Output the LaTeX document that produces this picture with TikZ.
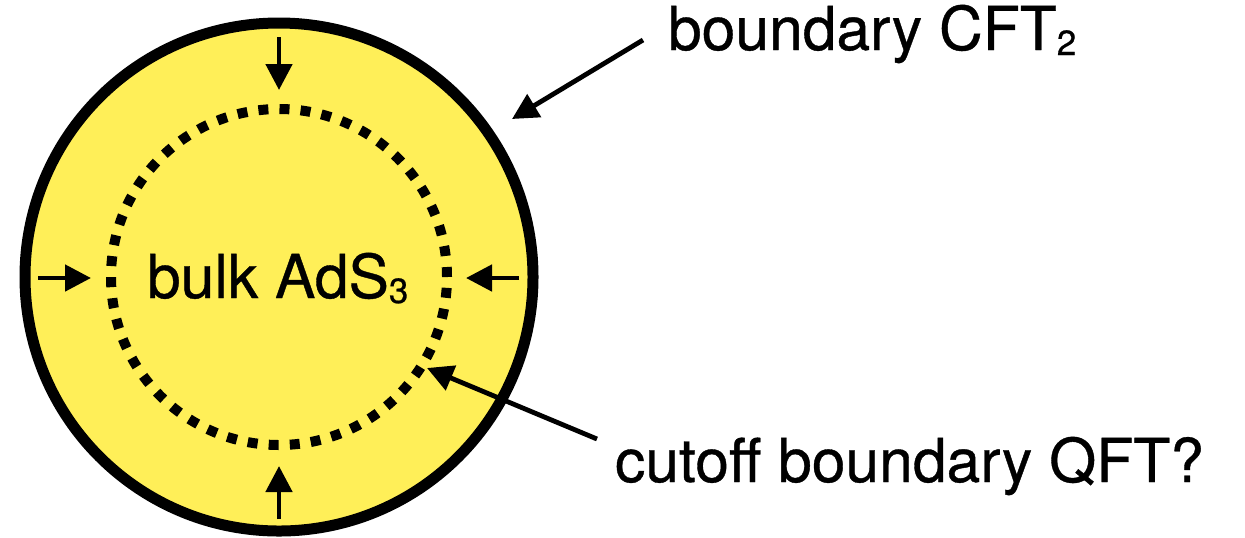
\documentclass[tikz,border=0pt]{standalone}
\usepackage{fontspec}
\setmainfont[FakeBold=0.6]{TeX Gyre Heros}
\usetikzlibrary{arrows.meta}
\definecolor{bulkyellow}{RGB}{255,239,88}
% lowered, smaller index digit
\newcommand\lowidx[1]{\raisebox{-2.5pt}{\fontsize{17.5}{18}\selectfont #1}}
\begin{document}
\begin{tikzpicture}[x=0.5pt,y=-0.5pt,
  txt/.style={inner sep=0pt, outer sep=0pt, anchor=base west,
              font=\fontsize{30.3}{36}\selectfont},
  pointer/.style={line width=2.4pt, -{Triangle[length=13pt,width=13pt]}},
]
\useasboundingbox (0,0) rectangle (1245,537);
\coordinate (c) at (279,277);

% boundary circle and cutoff circle
\node[circle, draw, line width=5.5pt, fill=bulkyellow, inner sep=0pt,
      outer sep=0pt, minimum size=254pt] (outer) at (c) {};
\node[circle, draw, line width=5pt, dash pattern=on 5pt off 5.56pt,
      inner sep=0pt, outer sep=0pt, minimum size=168pt] (inner) at (c) {};

% labels
\node[txt] (bulk) at (147,298) {bulk AdS\lowidx{3}};
\node[txt] (cft) at (668,50) {boundary CFT\lowidx{2}};
\node[txt] (qft) at (615,482) {cutoff boundary QFT?};

% inward arrows between the two circles
\coordinate (nT) at (279,37);  \coordinate (nTt) at (279,90);
\coordinate (nB) at (279,519); \coordinate (nBt) at (279,466);
\coordinate (nL) at (38,278);  \coordinate (nLt) at (91,278);
\coordinate (nR) at (519,278); \coordinate (nRt) at (466,278);
\draw[pointer] (nT) -- (nTt);
\draw[pointer] (nB) -- (nBt);
\draw[pointer] (nL) -- (nLt);
\draw[pointer] (nR) -- (nRt);

% label pointers
\coordinate (cftTail) at (643,40);  \coordinate (cftTip) at (512,119);
\coordinate (qftTail) at (597,439); \coordinate (qftTip) at (427,368);
\draw[pointer] (cftTail) -- (cftTip);
\draw[pointer] (qftTail) -- (qftTip);
\end{tikzpicture}
\end{document}
